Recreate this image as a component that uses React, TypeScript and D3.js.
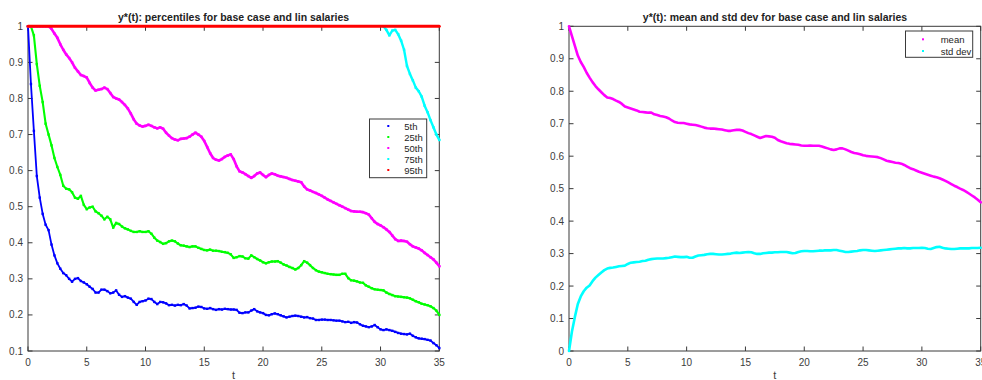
import React from 'react';
import * as d3 from 'd3';

// sample times (t = 0 .. 35, step 0.25)
const tGrid: number[] = d3.range(0, 35.0001, 0.25);
const p75T: number[] = d3.range(30.25, 35.0001, 0.25);

const xTicks = [0, 5, 10, 15, 20, 25, 30, 35];
const yTicksL = [0.1, 0.2, 0.3, 0.4, 0.5, 0.6, 0.7, 0.8, 0.9, 1];
const yTicksR = [0, 0.1, 0.2, 0.3, 0.4, 0.5, 0.6, 0.7, 0.8, 0.9, 1];

const p5 = [
  1.0, 0.84, 0.71, 0.585,
  0.525, 0.48, 0.45, 0.435,
  0.395, 0.365, 0.343, 0.328,
  0.316, 0.31, 0.3, 0.292,
  0.3, 0.302, 0.294, 0.29,
  0.285, 0.278, 0.272, 0.262,
  0.262, 0.27, 0.27, 0.266,
  0.26, 0.262, 0.268, 0.256,
  0.25, 0.252, 0.248, 0.245,
  0.236, 0.228, 0.236, 0.238,
  0.24, 0.245, 0.244, 0.236,
  0.23, 0.236, 0.235, 0.232,
  0.227, 0.228, 0.226, 0.228,
  0.227, 0.23, 0.226, 0.218,
  0.219, 0.22, 0.223, 0.222,
  0.218, 0.217, 0.219, 0.216,
  0.214, 0.216, 0.215, 0.217,
  0.216, 0.215, 0.215, 0.214,
  0.206, 0.205, 0.207, 0.207,
  0.212, 0.216, 0.21, 0.207,
  0.205, 0.2, 0.199, 0.202,
  0.204, 0.202, 0.199, 0.196,
  0.193, 0.195, 0.197, 0.198,
  0.197, 0.195, 0.193, 0.194,
  0.191, 0.19, 0.186, 0.186,
  0.187, 0.187, 0.186, 0.186,
  0.185, 0.184, 0.184, 0.182,
  0.18, 0.181, 0.178, 0.18,
  0.179, 0.174, 0.17, 0.168,
  0.166, 0.168, 0.172, 0.166,
  0.16, 0.158, 0.16, 0.158,
  0.156, 0.153, 0.15, 0.148,
  0.147, 0.146, 0.148, 0.142,
  0.138, 0.135, 0.134, 0.133,
  0.131, 0.129, 0.122, 0.116,
  0.108,
];

const p25 = [
  1, 1, 0.975, 0.895,
  0.835, 0.79, 0.73, 0.7,
  0.67, 0.635, 0.61, 0.588,
  0.558, 0.55, 0.548, 0.54,
  0.525, 0.522, 0.53, 0.505,
  0.493, 0.498, 0.5, 0.487,
  0.482, 0.475, 0.465, 0.472,
  0.465, 0.442, 0.455, 0.452,
  0.445, 0.44, 0.437, 0.433,
  0.43, 0.43, 0.432, 0.43,
  0.43, 0.432, 0.425, 0.414,
  0.406, 0.402, 0.397, 0.399,
  0.404, 0.406, 0.404, 0.398,
  0.393, 0.392, 0.39, 0.388,
  0.39, 0.39, 0.386, 0.383,
  0.38, 0.379, 0.381, 0.378,
  0.378, 0.377, 0.375, 0.374,
  0.372, 0.368, 0.358, 0.36,
  0.363, 0.362, 0.357, 0.356,
  0.365, 0.36, 0.355, 0.351,
  0.346, 0.343, 0.346, 0.348,
  0.348, 0.349, 0.345, 0.34,
  0.337, 0.333, 0.33, 0.326,
  0.33, 0.338, 0.349, 0.345,
  0.338, 0.33, 0.324, 0.32,
  0.318, 0.316, 0.314, 0.313,
  0.312, 0.311, 0.311, 0.314,
  0.314, 0.302, 0.296, 0.295,
  0.293, 0.29, 0.289, 0.282,
  0.278, 0.274, 0.271, 0.27,
  0.269, 0.268, 0.262, 0.258,
  0.255, 0.252, 0.251, 0.25,
  0.249, 0.248, 0.246, 0.242,
  0.238, 0.235, 0.231, 0.229,
  0.227, 0.224, 0.219, 0.212,
  0.2,
];

const p50 = [
  1, 1, 1, 1,
  1, 1, 1, 1,
  0.993, 0.98, 0.968, 0.95,
  0.935, 0.922, 0.912, 0.9,
  0.885, 0.875, 0.865, 0.862,
  0.858, 0.843, 0.83, 0.822,
  0.824, 0.826, 0.83, 0.826,
  0.815, 0.804, 0.8, 0.797,
  0.79, 0.782, 0.772, 0.758,
  0.742, 0.73, 0.725, 0.722,
  0.724, 0.727, 0.724, 0.72,
  0.717, 0.72, 0.716, 0.705,
  0.697, 0.69, 0.686, 0.684,
  0.688, 0.689, 0.69, 0.694,
  0.7, 0.705, 0.7, 0.694,
  0.682, 0.665, 0.648, 0.635,
  0.63, 0.628, 0.632, 0.638,
  0.642, 0.645, 0.632, 0.612,
  0.598, 0.595, 0.59, 0.585,
  0.58, 0.585, 0.592, 0.595,
  0.588, 0.582, 0.588, 0.592,
  0.59, 0.586, 0.584, 0.582,
  0.58, 0.577, 0.574, 0.572,
  0.57, 0.568, 0.556, 0.548,
  0.545, 0.541, 0.538, 0.534,
  0.53, 0.525, 0.52, 0.516,
  0.512, 0.508, 0.504, 0.5,
  0.496, 0.492, 0.488, 0.487,
  0.486, 0.486, 0.485, 0.482,
  0.478, 0.468, 0.458, 0.452,
  0.448, 0.443, 0.437, 0.43,
  0.42, 0.41, 0.405, 0.406,
  0.405, 0.403, 0.396, 0.39,
  0.387, 0.384, 0.379, 0.372,
  0.366, 0.36, 0.354, 0.345,
  0.335,
];

// 75th percentile, only where it drops below 1 (t = 30.25 .. 35)
const p75 = [
  1.0, 0.99, 0.975, 0.988,
  0.99, 0.978, 0.96, 0.935,
  0.89, 0.868, 0.85, 0.83,
  0.82, 0.805, 0.78, 0.762,
  0.74, 0.72, 0.7, 0.685,
];

const p95 = [
  1, 1, 1, 1, 1, 1, 1, 1, 1, 1, 1, 1, 1, 1, 1, 1, 1, 1, 1, 1,
  1, 1, 1, 1, 1, 1, 1, 1, 1, 1, 1, 1, 1, 1, 1, 1, 1, 1, 1, 1,
  1, 1, 1, 1, 1, 1, 1, 1, 1, 1, 1, 1, 1, 1, 1, 1, 1, 1, 1, 1,
  1, 1, 1, 1, 1, 1, 1, 1, 1, 1, 1, 1, 1, 1, 1, 1, 1, 1, 1, 1,
  1, 1, 1, 1, 1, 1, 1, 1, 1, 1, 1, 1, 1, 1, 1, 1, 1, 1, 1, 1,
  1, 1, 1, 1, 1, 1, 1, 1, 1, 1, 1, 1, 1, 1, 1, 1, 1, 1, 1, 1,
  1, 1, 1, 1, 1, 1, 1, 1, 1, 1, 1, 1, 1, 1, 1, 1, 1, 1, 1, 1,
  1,
];

const meanY = [
  1.0, 0.97, 0.94, 0.91,
  0.89, 0.875, 0.857, 0.842,
  0.828, 0.816, 0.806, 0.797,
  0.788, 0.781, 0.779, 0.776,
  0.771, 0.767, 0.761, 0.753,
  0.75, 0.747, 0.744, 0.741,
  0.737, 0.736, 0.735, 0.734,
  0.734, 0.729, 0.727, 0.724,
  0.722, 0.72, 0.716, 0.71,
  0.705, 0.703, 0.702, 0.702,
  0.7, 0.698, 0.697, 0.696,
  0.694, 0.691, 0.688, 0.686,
  0.685, 0.685, 0.684, 0.683,
  0.682, 0.68, 0.678, 0.678,
  0.68, 0.681, 0.681, 0.679,
  0.675, 0.671, 0.668, 0.664,
  0.66, 0.656, 0.659, 0.662,
  0.661, 0.66, 0.657, 0.65,
  0.646, 0.643, 0.64, 0.638,
  0.637, 0.636, 0.635, 0.633,
  0.632, 0.632, 0.633, 0.632,
  0.632, 0.632, 0.63, 0.627,
  0.624, 0.621, 0.619, 0.621,
  0.624, 0.624, 0.621, 0.617,
  0.613, 0.61, 0.608, 0.606,
  0.603, 0.601, 0.6, 0.599,
  0.598, 0.597, 0.594, 0.59,
  0.586, 0.584, 0.582, 0.58,
  0.579, 0.577, 0.573, 0.568,
  0.563, 0.56, 0.556, 0.552,
  0.549, 0.546, 0.543, 0.54,
  0.537, 0.535, 0.532, 0.528,
  0.524, 0.519, 0.514, 0.509,
  0.505, 0.5, 0.496, 0.491,
  0.485, 0.479, 0.473, 0.466,
  0.458,
];

const stdY = [
  0.0, 0.06, 0.105, 0.145,
  0.168, 0.184, 0.195, 0.202,
  0.215, 0.226, 0.234, 0.242,
  0.249, 0.254, 0.256, 0.257,
  0.259, 0.261, 0.262, 0.263,
  0.268, 0.272, 0.273, 0.274,
  0.275, 0.277, 0.278, 0.281,
  0.283, 0.284, 0.285, 0.285,
  0.285, 0.286, 0.287, 0.289,
  0.291, 0.29, 0.289, 0.289,
  0.29, 0.287, 0.287, 0.291,
  0.294, 0.295, 0.296, 0.298,
  0.299, 0.299, 0.298, 0.297,
  0.297, 0.298, 0.299, 0.3,
  0.302, 0.303, 0.302, 0.303,
  0.304, 0.305, 0.304, 0.301,
  0.299, 0.299, 0.301, 0.302,
  0.303, 0.303, 0.304, 0.304,
  0.305, 0.305, 0.305, 0.303,
  0.301, 0.302, 0.305, 0.307,
  0.308, 0.308, 0.307, 0.307,
  0.308, 0.309, 0.309, 0.31,
  0.31, 0.31, 0.311, 0.311,
  0.309, 0.307, 0.305, 0.305,
  0.306, 0.307, 0.308, 0.31,
  0.311, 0.311, 0.31, 0.309,
  0.308, 0.309, 0.31, 0.311,
  0.312, 0.313, 0.314, 0.315,
  0.316, 0.316, 0.317, 0.316,
  0.316, 0.317, 0.317, 0.317,
  0.318, 0.317, 0.315, 0.314,
  0.317, 0.32, 0.321, 0.318,
  0.316, 0.315, 0.314, 0.314,
  0.315, 0.316, 0.316, 0.316,
  0.316, 0.317, 0.317, 0.317,
  0.318,
];

const leftSeries = [
  { name: '5th', color: '#0000ff', t: tGrid, v: p5, w: 1.8 },
  { name: '25th', color: '#00ff00', t: tGrid, v: p25, w: 2.1 },
  { name: '50th', color: '#ff00ff', t: tGrid, v: p50, w: 2.6 },
  { name: '75th', color: '#00ffff', t: p75T, v: p75, w: 2.4 },
  { name: '95th', color: '#ff0000', t: tGrid, v: p95, w: 3 },
];
const rightSeries = [
  { name: 'mean', color: '#ff00ff', t: tGrid, v: meanY, w: 2.6 },
  { name: 'std dev', color: '#00ffff', t: tGrid, v: stdY, w: 2.6 },
];

const FONT = '"Liberation Sans", Arial, Helvetica, sans-serif';
const AXIS = '#3a3a3a';
const TICKTXT = '#3c3c3c';

function fmt(v: number) {
  return String(+v.toFixed(1));
}

type Series = { name: string; color: string; t: number[]; v: number[]; w: number };

export default function App() {
  const top = 26.3;
  const bottom = 351;
  const xL = d3.scaleLinear().domain([0, 35]).range([28, 439.3]);
  const yL = d3.scaleLinear().domain([0.1, 1]).range([bottom, top]);
  const xR = d3.scaleLinear().domain([0, 35]).range([569, 980.7]);
  const yR = d3.scaleLinear().domain([0, 1]).range([bottom, top]);
  const tl = 4.5;

  const axesBox = (x: d3.ScaleLinear<number, number>, y: d3.ScaleLinear<number, number>, yt: number[]) => {
    const [x0, x1] = x.range();
    return (
      <g>
        <rect x={x0} y={top} width={x1 - x0} height={bottom - top} fill="none" stroke={AXIS} strokeWidth={1} />
        {xTicks.map((t) => (
          <g key={'xt' + t}>
            <line x1={x(t)} x2={x(t)} y1={bottom} y2={bottom - tl} stroke={AXIS} />
            <line x1={x(t)} x2={x(t)} y1={top} y2={top + tl} stroke={AXIS} />
            <text x={x(t)} y={365.5} textAnchor="middle" fontSize={10} fill={TICKTXT} fontFamily={FONT}>
              {t}
            </text>
          </g>
        ))}
        {yt.map((v) => (
          <g key={'yt' + v}>
            <line x1={x0} x2={x0 + tl} y1={y(v)} y2={y(v)} stroke={AXIS} />
            <line x1={x1} x2={x1 - tl} y1={y(v)} y2={y(v)} stroke={AXIS} />
            <text x={x0 - 5} y={y(v) + 3.5} textAnchor="end" fontSize={10} fill={TICKTXT} fontFamily={FONT}>
              {fmt(v)}
            </text>
          </g>
        ))}
        <text x={(x0 + x1) / 2} y={379} textAnchor="middle" fontSize={11} fill={TICKTXT} fontFamily={FONT}>
          t
        </text>
      </g>
    );
  };

  const dots = (
    s: Series,
    x: d3.ScaleLinear<number, number>,
    y: d3.ScaleLinear<number, number>,
    dotS: number
  ) => {
    const pts = s.t.map((t, i) => [x(t), y(s.v[i])] as [number, number]);
    const path = d3.line()(pts) || '';
    return (
      <g key={s.name}>
        <path d={path} fill="none" stroke={s.color} strokeWidth={s.w} strokeLinejoin="round" strokeLinecap="round" />
        {dotS > 0 &&
          pts.map((p, i) => (
            <rect key={i} x={p[0] - dotS / 2} y={p[1] - dotS / 2} width={dotS} height={dotS} fill={s.color} />
          ))}
      </g>
    );
  };

  return (
    <svg width={982} height={380} style={{ position: 'absolute', left: 0, top: 0, background: '#fff' }}>
      <rect width={982} height={380} fill="#fff" />
      {/* Left panel */}
      {axesBox(xL, yL, yTicksL)}
      <text x={233.6} y={21} textAnchor="middle" fontSize={10.5} fontWeight="bold" fill="#222" fontFamily={FONT}>
        y*(t): percentiles for base case and lin salaries
      </text>
      {leftSeries.map((s) => (s.name === '95th' ? dots(s, xL, yL, 0) : dots(s, xL, yL, 2.4)))}
      {/* left legend */}
      <g>
        <rect x={369.5} y={119} width={57.2} height={58.7} fill="#fff" stroke={AXIS} />
        {leftSeries.map((s, i) => (
          <g key={'lg' + s.name}>
            <rect x={387.3} y={126 + i * 11 - 1} width={2} height={2} fill={s.color} />
            <text x={404.3} y={126 + i * 11 + 3.5} fontSize={9.5} fill="#262626" fontFamily={FONT}>
              {s.name}
            </text>
          </g>
        ))}
      </g>

      {/* Right panel */}
      {axesBox(xR, yR, yTicksR)}
      <text x={775} y={21} textAnchor="middle" fontSize={10.5} fontWeight="bold" fill="#222" fontFamily={FONT}>
        y*(t): mean and std dev for base case and lin salaries
      </text>
      {rightSeries.map((s) => dots(s, xR, yR, 0))}
      <g>
        <rect x={905.5} y={31} width={67.2} height={26.3} fill="#fff" stroke={AXIS} />
        {rightSeries.map((s, i) => (
          <g key={'rg' + s.name}>
            <rect x={922} y={39.3 + i * 11.7 - 1} width={2} height={2} fill={s.color} />
            <text x={940.7} y={39.3 + i * 11.7 + 3.5} fontSize={9.5} fill="#262626" fontFamily={FONT}>
              {s.name}
            </text>
          </g>
        ))}
      </g>
    </svg>
  );
}
